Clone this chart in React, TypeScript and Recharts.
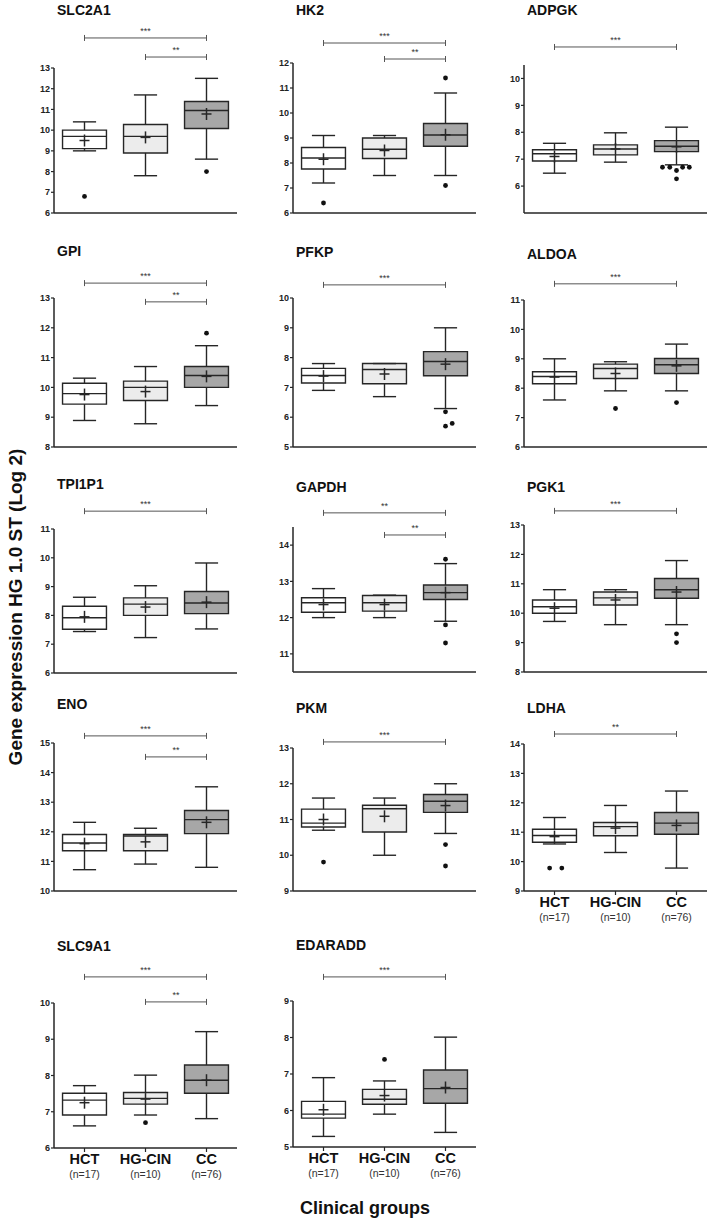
import React from "react";
import {
  ComposedChart,
  XAxis,
  YAxis,
  ReferenceArea,
  ReferenceLine,
  Scatter,
} from "recharts";

// groups shown on the x axis of every panel
const groups = ["HCT", "HG-CIN", "CC"];
const groupSizes = ["(n=17)", "(n=10)", "(n=76)"];
const boxFills = ["#ffffff", "#ececec", "#a7a7a7"];

// each row: [whisker low, Q1, median, Q3, whisker high, mean]
const slc2a1Stats = [
  [9.0, 9.11, 9.7, 10.0, 10.4, 9.5],
  [7.8, 8.9, 9.7, 10.27, 11.7, 9.65],
  [8.6, 10.08, 10.95, 11.38, 12.5, 10.78],
];
const slc2a1Outliers = [{ g: 1, v: 6.8 }, { g: 3, v: 8.0 }];
const slc2a1Sig = [
  { from: 1, to: 3, level: 14.45, label: "***" },
  { from: 2, to: 3, level: 13.53, label: "**" },
];

const hk2Stats = [
  [7.2, 7.76, 8.2, 8.62, 9.1, 8.15],
  [7.5, 8.18, 8.55, 9.0, 9.1, 8.5],
  [7.5, 8.67, 9.12, 9.58, 10.8, 9.13],
];
const hk2Outliers = [{ g: 1, v: 6.4 }, { g: 3, v: 11.4 }, { g: 3, v: 7.1 }];
const hk2Sig = [
  { from: 1, to: 3, level: 12.8, label: "***" },
  { from: 2, to: 3, level: 12.16, label: "**" },
];

const adpgkStats = [
  [6.48, 6.93, 7.2, 7.35, 7.59, 7.1],
  [6.89, 7.16, 7.38, 7.53, 7.98, 7.38],
  [6.79, 7.28, 7.48, 7.69, 8.19, 7.46],
];
const adpgkOutliers = [
  { g: 3, v: 6.7, dx: -0.23 },
  { g: 3, v: 6.7, dx: -0.11 },
  { g: 3, v: 6.58 },
  { g: 3, v: 6.7, dx: 0.1 },
  { g: 3, v: 6.7, dx: 0.21 },
  { g: 3, v: 6.27 },
];
const adpgkSig = [{ from: 1, to: 3, level: 11.17, label: "***" }];

const gpiStats = [
  [8.89, 9.44, 9.79, 10.14, 10.31, 9.76],
  [8.78, 9.56, 10.0, 10.21, 10.7, 9.86],
  [9.39, 10.0, 10.4, 10.7, 11.4, 10.37],
];
const gpiOutliers = [{ g: 3, v: 11.82 }];
const gpiSig = [
  { from: 1, to: 3, level: 13.5, label: "***" },
  { from: 2, to: 3, level: 12.87, label: "**" },
];

const pfkpStats = [
  [6.9, 7.15, 7.4, 7.64, 7.8, 7.38],
  [6.69, 7.12, 7.6, 7.8, 7.8, 7.45],
  [6.29, 7.39, 7.87, 8.2, 9.0, 7.78],
];
const pfkpOutliers = [{ g: 3, v: 6.18 }, { g: 3, v: 5.7 }, { g: 3, v: 5.79, dx: 0.11 }];
const pfkpSig = [{ from: 1, to: 3, level: 10.44, label: "***" }];

const aldoaStats = [
  [7.6, 8.15, 8.4, 8.56, 9.0, 8.38],
  [7.91, 8.33, 8.67, 8.82, 8.9, 8.5],
  [7.91, 8.5, 8.8, 9.01, 9.5, 8.76],
];
const aldoaOutliers = [{ g: 2, v: 7.31 }, { g: 3, v: 7.51 }];
const aldoaSig = [{ from: 1, to: 3, level: 11.55, label: "***" }];

const tpi1p1Stats = [
  [7.44, 7.52, 7.92, 8.32, 8.63, 7.95],
  [7.23, 8.0, 8.39, 8.61, 9.03, 8.29],
  [7.53, 8.06, 8.43, 8.83, 9.82, 8.46],
];
const tpi1p1Outliers: { g: number; v: number; dx?: number }[] = [];
const tpi1p1Sig = [{ from: 1, to: 3, level: 11.62, label: "***" }];

const gapdhStats = [
  [12.0, 12.15, 12.41, 12.55, 12.8, 12.36],
  [12.0, 12.18, 12.41, 12.61, 12.62, 12.36],
  [11.9, 12.5, 12.69, 12.9, 13.49, 12.69],
];
const gapdhOutliers = [{ g: 3, v: 13.61 }, { g: 3, v: 11.8 }, { g: 3, v: 11.3 }];
const gapdhSig = [
  { from: 1, to: 3, level: 14.89, label: "**" },
  { from: 2, to: 3, level: 14.28, label: "**" },
];

const pgk1Stats = [
  [9.72, 10.0, 10.22, 10.45, 10.8, 10.17],
  [9.61, 10.28, 10.52, 10.72, 10.8, 10.45],
  [9.61, 10.51, 10.8, 11.18, 11.79, 10.72],
];
const pgk1Outliers = [{ g: 3, v: 9.3 }, { g: 3, v: 9.0 }];
const pgk1Sig = [{ from: 1, to: 3, level: 13.48, label: "***" }];

const enoStats = [
  [10.72, 11.36, 11.62, 11.91, 12.32, 11.6],
  [10.91, 11.36, 11.86, 11.91, 12.12, 11.66],
  [10.8, 11.94, 12.41, 12.72, 13.52, 12.32],
];
const enoOutliers: { g: number; v: number; dx?: number }[] = [];
const enoSig = [
  { from: 1, to: 3, level: 15.24, label: "***" },
  { from: 2, to: 3, level: 14.53, label: "**" },
];

const pkmStats = [
  [10.7, 10.79, 10.9, 11.29, 11.6, 11.0],
  [10.0, 10.65, 11.3, 11.4, 11.6, 11.09],
  [10.61, 11.2, 11.51, 11.7, 12.0, 11.39],
];
const pkmOutliers = [{ g: 1, v: 9.81 }, { g: 3, v: 10.3 }, { g: 3, v: 9.7 }];
const pkmSig = [{ from: 1, to: 3, level: 13.17, label: "***" }];

const ldhaStats = [
  [10.6, 10.66, 10.89, 11.1, 11.5, 10.85],
  [10.31, 10.88, 11.19, 11.33, 11.91, 11.14],
  [9.78, 10.93, 11.31, 11.67, 12.4, 11.23],
];
const ldhaOutliers = [{ g: 1, v: 9.78, dx: -0.08 }, { g: 1, v: 9.78, dx: 0.12 }];
const ldhaSig = [{ from: 1, to: 3, level: 14.34, label: "**" }];

const slc9a1Stats = [
  [6.61, 6.91, 7.32, 7.51, 7.72, 7.25],
  [6.91, 7.21, 7.37, 7.53, 8.01, 7.35],
  [6.81, 7.51, 7.87, 8.29, 9.21, 7.87],
];
const slc9a1Outliers = [{ g: 2, v: 6.7 }];
const slc9a1Sig = [
  { from: 1, to: 3, level: 10.72, label: "***" },
  { from: 2, to: 3, level: 10.03, label: "**" },
];

const edaraddStats = [
  [5.29, 5.79, 5.9, 6.25, 6.9, 6.02],
  [5.9, 6.17, 6.31, 6.58, 6.81, 6.41],
  [5.4, 6.2, 6.6, 7.11, 8.01, 6.63],
];
const edaraddOutliers = [{ g: 2, v: 7.4 }];
const edaraddSig = [{ from: 1, to: 3, level: 9.66, label: "***" }];

// y axis domains and tick labels
const range = (a: number, b: number) => {
  const out: number[] = [];
  for (let v = a; v <= b; v++) out.push(v);
  return out;
};

const panels = [
  { name: "SLC2A1", stats: slc2a1Stats, outliers: slc2a1Outliers, sig: slc2a1Sig, domain: [6, 13], ticks: range(6, 13), col: 0, top: 68, bottom: 213, titleY: 10 },
  { name: "HK2", stats: hk2Stats, outliers: hk2Outliers, sig: hk2Sig, domain: [6, 12], ticks: range(6, 12), col: 1, top: 63, bottom: 213, titleY: 10 },
  { name: "ADPGK", stats: adpgkStats, outliers: adpgkOutliers, sig: adpgkSig, domain: [5, 10.5], ticks: range(6, 10), col: 2, top: 65, bottom: 213, titleY: 10 },
  { name: "GPI", stats: gpiStats, outliers: gpiOutliers, sig: gpiSig, domain: [8, 13], ticks: range(8, 13), col: 0, top: 298, bottom: 447, titleY: 251 },
  { name: "PFKP", stats: pfkpStats, outliers: pfkpOutliers, sig: pfkpSig, domain: [5, 10], ticks: range(5, 10), col: 1, top: 298, bottom: 447, titleY: 252 },
  { name: "ALDOA", stats: aldoaStats, outliers: aldoaOutliers, sig: aldoaSig, domain: [6, 11], ticks: range(6, 11), col: 2, top: 300, bottom: 447, titleY: 254 },
  { name: "TPI1P1", stats: tpi1p1Stats, outliers: tpi1p1Outliers, sig: tpi1p1Sig, domain: [6, 11], ticks: range(6, 11), col: 0, top: 529, bottom: 673, titleY: 484 },
  { name: "GAPDH", stats: gapdhStats, outliers: gapdhOutliers, sig: gapdhSig, domain: [10.5, 14.5], ticks: range(11, 14), col: 1, top: 527, bottom: 672, titleY: 487 },
  { name: "PGK1", stats: pgk1Stats, outliers: pgk1Outliers, sig: pgk1Sig, domain: [8, 13], ticks: range(8, 13), col: 2, top: 525, bottom: 672, titleY: 487 },
  { name: "ENO", stats: enoStats, outliers: enoOutliers, sig: enoSig, domain: [10, 15], ticks: range(10, 15), col: 0, top: 743, bottom: 891, titleY: 704 },
  { name: "PKM", stats: pkmStats, outliers: pkmOutliers, sig: pkmSig, domain: [9, 13], ticks: range(9, 13), col: 1, top: 748, bottom: 891, titleY: 708 },
  { name: "LDHA", stats: ldhaStats, outliers: ldhaOutliers, sig: ldhaSig, domain: [9, 14], ticks: range(9, 14), col: 2, top: 744, bottom: 891, titleY: 708, labels: true },
  { name: "SLC9A1", stats: slc9a1Stats, outliers: slc9a1Outliers, sig: slc9a1Sig, domain: [6, 10], ticks: range(6, 10), col: 0, top: 1003, bottom: 1148, titleY: 946, labels: true },
  { name: "EDARADD", stats: edaraddStats, outliers: edaraddOutliers, sig: edaraddSig, domain: [5, 9], ticks: range(5, 9), col: 1, top: 1001, bottom: 1147, titleY: 945, labels: true },
];

const colAxisX = [54, 293, 524];
const PLOT_W = 183;
const Y_AXIS_W = 30;
const TOP_PAD = 52;
const BOX_HALF = 0.36;
const CAP_HALF = 0.19;
const INK = "#262626";
const FONT = "'Liberation Sans', Arial, sans-serif";

const sigShape = (label: string) => (p: any) => (
  <g>
    <line x1={p.x1} y1={p.y1} x2={p.x2} y2={p.y2} stroke="#555" strokeWidth={1} />
    <line x1={p.x1} y1={p.y1 - 3} x2={p.x1} y2={p.y1 + 3} stroke="#555" strokeWidth={1} />
    <line x1={p.x2} y1={p.y2 - 3} x2={p.x2} y2={p.y2 + 3} stroke="#555" strokeWidth={1} />
    <text x={(p.x1 + p.x2) / 2} y={p.y1 - 4} textAnchor="middle" fontSize={9} fill="#333" fontFamily={FONT}>
      {label}
    </text>
  </g>
);

const meanShape = (p: any) => (
  <g>
    <line x1={p.cx - 5} y1={p.cy} x2={p.cx + 5} y2={p.cy} stroke={INK} strokeWidth={1.5} />
    <line x1={p.cx} y1={p.cy - 6} x2={p.cx} y2={p.cy + 6} stroke={INK} strokeWidth={1.5} />
  </g>
);

const dotShape = (p: any) => <circle cx={p.cx} cy={p.cy} r={2.4} fill="#111" />;

const GroupTick = (props: any) => {
  const { x, y, payload } = props;
  const i = payload.value - 1;
  return (
    <g fontFamily={FONT}>
      <text x={x} y={y + 10} textAnchor="middle" fontSize={14.5} fontWeight="bold" fill="#111">
        {groups[i]}
      </text>
      <text x={x} y={y + 24} textAnchor="middle" fontSize={10.5} fill="#333">
        {groupSizes[i]}
      </text>
    </g>
  );
};

function Panel({ panel }: { panel: (typeof panels)[number] }) {
  const plotH = panel.bottom - panel.top;
  const xAxisH = panel.labels ? 40 : 8;
  const width = Y_AXIS_W + PLOT_W + 2;
  const height = TOP_PAD + plotH + xAxisH;
  const means = panel.stats.map((s, i) => ({ x: i + 1, y: s[5] }));
  const dots = panel.outliers.map((o: any) => ({ x: o.g + (o.dx || 0), y: o.v }));
  const stroke = { stroke: INK, strokeWidth: 1.4, ifOverflow: "visible" as const };
  return (
    <div style={{ position: "absolute", left: colAxisX[panel.col] - Y_AXIS_W, top: panel.top - TOP_PAD }}>
      <ComposedChart width={width} height={height} margin={{ top: TOP_PAD, right: 2, bottom: 0, left: 0 }} style={{ overflow: "visible" }}>
        <XAxis
          type="number"
          dataKey="x"
          domain={[0.5, 3.5]}
          ticks={[1, 2, 3]}
          height={xAxisH}
          tickSize={4}
          tick={panel.labels ? <GroupTick /> : false}
          axisLine={{ stroke: INK, strokeWidth: 1.5 }}
          tickLine={{ stroke: INK, strokeWidth: 1.2 }}
        />
        <YAxis
          type="number"
          dataKey="y"
          domain={panel.domain}
          ticks={panel.ticks}
          interval={0}
          width={Y_AXIS_W}
          tickSize={3}
          tickMargin={1}
          tick={{ fontSize: 9, fontWeight: "bold", fill: "#222", fontFamily: FONT }}
          axisLine={{ stroke: INK, strokeWidth: 1.5 }}
          tickLine={{ stroke: INK, strokeWidth: 1.2 }}
        />
        {panel.stats.map((s, i) => (
          <ReferenceArea
            key={"box" + i}
            x1={i + 1 - BOX_HALF}
            x2={i + 1 + BOX_HALF}
            y1={s[1]}
            y2={s[3]}
            fill={boxFills[i]}
            fillOpacity={1}
            stroke={INK}
            strokeWidth={1.4}
            ifOverflow="visible"
          />
        ))}
        {panel.stats.map((s, i) => [
          <ReferenceLine key={"wl" + i} segment={[{ x: i + 1, y: s[0] }, { x: i + 1, y: s[1] }]} {...stroke} />,
          <ReferenceLine key={"wh" + i} segment={[{ x: i + 1, y: s[3] }, { x: i + 1, y: s[4] }]} {...stroke} />,
          <ReferenceLine key={"cl" + i} segment={[{ x: i + 1 - CAP_HALF, y: s[0] }, { x: i + 1 + CAP_HALF, y: s[0] }]} {...stroke} />,
          <ReferenceLine key={"ch" + i} segment={[{ x: i + 1 - CAP_HALF, y: s[4] }, { x: i + 1 + CAP_HALF, y: s[4] }]} {...stroke} />,
          <ReferenceLine key={"md" + i} segment={[{ x: i + 1 - BOX_HALF, y: s[2] }, { x: i + 1 + BOX_HALF, y: s[2] }]} {...stroke} />,
        ])}
        {panel.sig.map((b, i) => (
          <ReferenceLine
            key={"sig" + i}
            segment={[{ x: b.from, y: b.level }, { x: b.to, y: b.level }]}
            ifOverflow="visible"
            shape={sigShape(b.label)}
          />
        ))}
        <Scatter data={means} dataKey="y" shape={meanShape} isAnimationActive={false} />
        <Scatter data={dots} dataKey="y" shape={dotShape} isAnimationActive={false} />
      </ComposedChart>
    </div>
  );
}

export default function App() {
  return (
    <div style={{ position: "relative", width: 709, height: 1225, overflow: "hidden", background: "#fff", fontFamily: FONT }}>
      <style>{"body{margin:0}"}</style>
      {panels.map((p) => (
        <div
          key={"t" + p.name}
          style={{
            position: "absolute",
            left: colAxisX[p.col] + 3,
            top: p.titleY - 9,
            fontSize: 14,
            fontWeight: "bold",
            color: "#111",
            lineHeight: "18px",
          }}
        >
          {p.name}
        </div>
      ))}
      {panels.map((p) => (
        <Panel key={p.name} panel={p} />
      ))}
      <div
        style={{
          position: "absolute",
          left: 16,
          top: 607,
          transform: "translate(-50%, -50%) rotate(-90deg)",
          whiteSpace: "nowrap",
          fontSize: 19,
          fontWeight: "bold",
          color: "#111",
        }}
      >
        Gene expression HG 1.0 ST (Log 2)
      </div>
      <div
        style={{
          position: "absolute",
          left: 365,
          top: 1208,
          transform: "translate(-50%, -50%)",
          whiteSpace: "nowrap",
          fontSize: 18,
          fontWeight: "bold",
          color: "#111",
        }}
      >
        Clinical groups
      </div>
    </div>
  );
}
